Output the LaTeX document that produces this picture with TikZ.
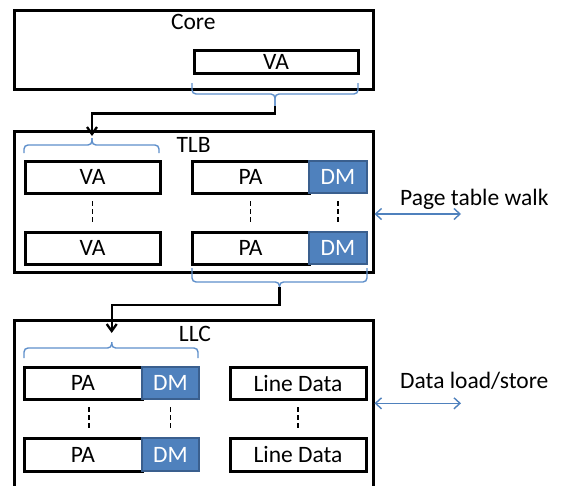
\documentclass[tikz,border=0pt]{standalone}
\usepackage{fontspec}
\setmainfont{Carlito}
\usetikzlibrary{arrows.meta,calc}
\definecolor{dmfill}{HTML}{4F81BD}
\definecolor{dmline}{HTML}{3A5F8E}
\definecolor{brcol}{HTML}{5E8FCB}
\definecolor{arrblue}{HTML}{4F81BD}
\tikzset{
  lbl/.style={font=\fontsize{23.5}{28}\selectfont, inner sep=0pt},
  outerbox/.style={draw, line width=3pt, inner sep=0pt, outer sep=0pt, anchor=north west},
  cell/.style={draw, line width=3pt, inner sep=0pt, outer sep=0pt, anchor=north west, font=\fontsize{23.5}{28}\selectfont},
  dmcell/.style={cell, draw=dmline, fill=dmfill, text=white, line width=2.2pt},
  vdash/.style={line width=1.7pt, dash pattern=on 5pt off 3pt},
  bracepath/.style={draw=brcol, line width=1.4pt, rounded corners=4pt},
  conn/.style={line width=2.3pt, -{Straight Barb[length=7pt,width=10pt]}},
  dbl/.style={draw=arrblue, line width=1.4pt, {Straight Barb[length=6pt,width=11pt]}-{Straight Barb[length=6pt,width=11pt]}},
}
\begin{document}
\begin{tikzpicture}[x=1pt,y=-1pt]
\useasboundingbox (0,0) rectangle (562,485);
\clip (0,0) rectangle (562,485);
\fill[white] (0,0) rectangle (562,485);

% Core
\node[outerbox, minimum width=359pt, minimum height=79pt] (core) at (14,10) {};
\node[lbl, anchor=base] (corel) at (193.3,29) {Core};
\node[cell, minimum width=164pt, minimum height=23pt] (coreva) at (194,50) {VA};

% TLB
\node[outerbox, minimum width=359pt, minimum height=141pt] (tlb) at (14,131) {};
\node[lbl, anchor=base] (tlbl) at (193.6,152.7) {TLB};
\node[cell, minimum width=135pt, minimum height=32pt] (tva1) at (25,161) {VA};
\node[cell, minimum width=135pt, minimum height=32pt] (tva2) at (25,232) {VA};
\node[cell, minimum width=117pt, minimum height=32pt] (tpa1) at (192,161) {PA};
\node[cell, minimum width=117pt, minimum height=32pt] (tpa2) at (192,232) {PA};
\node[dmcell, minimum width=58pt, minimum height=32pt] (tdm1) at (309,161) {DM};
\node[dmcell, minimum width=58pt, minimum height=32pt] (tdm2) at (309,232) {DM};

% LLC
\node[outerbox, minimum width=359pt, minimum height=200pt] (llc) at (14,320) {};
\node[lbl, anchor=base] (llcl) at (195,341) {LLC};
\node[cell, minimum width=118pt, minimum height=32pt] (lpa1) at (24,367) {PA};
\node[cell, minimum width=118pt, minimum height=33pt] (lpa2) at (24,438) {PA};
\node[dmcell, minimum width=57pt, minimum height=32pt] (ldm1) at (142,367) {DM};
\node[dmcell, minimum width=57pt, minimum height=33pt] (ldm2) at (142,438) {DM};
\node[cell, minimum width=136pt, minimum height=32pt] (lld1) at (230,367) {Line Data};
\node[cell, minimum width=136pt, minimum height=33pt] (lld2) at (230,438) {Line Data};

% dashed continuation marks
\draw[vdash] ($(tva1.south)+(0,8)$) -- ($(tva2.north)+(0,-8)$);
\draw[vdash] ($(tpa1.south)+(0,8)$) -- ($(tpa2.north)+(0,-8)$);
\draw[vdash] ($(tdm1.south)+(0,8)$) -- ($(tdm2.north)+(0,-8)$);
\draw[vdash] ($(lpa1.south)+(6,8)$) -- ($(lpa2.north)+(6,-8)$);
\draw[vdash] ($(ldm1.south)+(0,8)$) -- ($(ldm2.north)+(0,-8)$);
\draw[vdash] ($(lld1.south)+(0,8)$) -- ($(lld2.north)+(0,-8)$);

% braces
\coordinate (c1) at (275,106);
\draw[bracepath] (192,83) -- (192,94) -- (275,94) -- (c1);
\draw[bracepath] (358,83) -- (358,94) -- (275,94) -- (c1);

\coordinate (c2) at (92,138);
\draw[bracepath] (24,153) -- (24,145) -- (92,145) -- (c2);
\draw[bracepath] (159,153) -- (159,145) -- (92,145) -- (c2);

\coordinate (c3) at (279.5,287);
\draw[bracepath] (192,268) -- (192,282) -- (279.5,282) -- (c3);
\draw[bracepath] (367,268) -- (367,282) -- (279.5,282) -- (c3);

\coordinate (c4) at (111.7,342);
\draw[bracepath] (24,358) -- (24,348) -- (111.7,348) -- (c4);
\draw[bracepath] (198,358) -- (198,348) -- (111.7,348) -- (c4);

% connectors
\draw[conn] (c1) -- ++(0,7.5) -| ($(c2)+(0,-2)$);
\draw[conn] (c3) -- ++(0,18) -| ($(c4)+(0,-9)$);

% external interfaces
\coordinate (pw) at (461,214);
\draw[dbl] ($(tlb.east |- pw)+(1.5,0)$) -- (pw);
\node[lbl, anchor=base west] (pwl) at (400,205) {Page table walk};

\coordinate (dw) at (461,403.3);
\draw[dbl] ($(llc.east |- dw)+(1.5,0)$) -- (dw);
\node[lbl, anchor=base west] (dwl) at (400,388.3) {Data load/store};
\end{tikzpicture}
\end{document}
